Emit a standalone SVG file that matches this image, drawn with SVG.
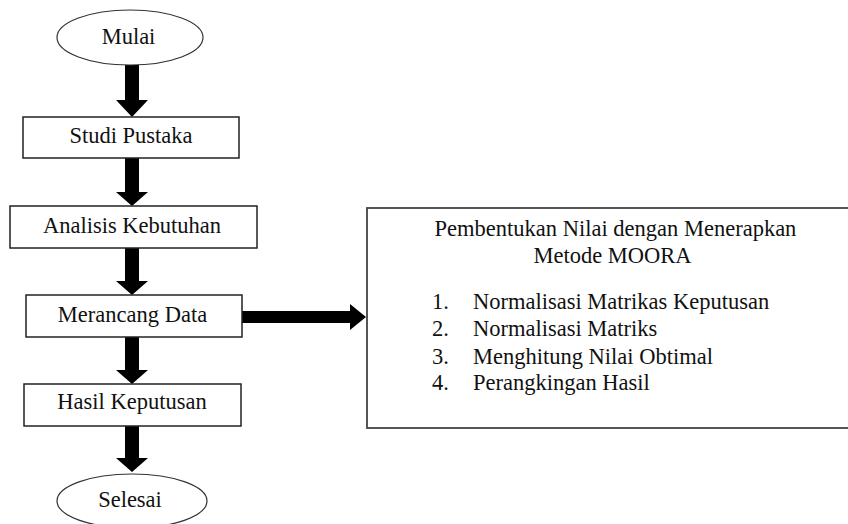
<svg xmlns="http://www.w3.org/2000/svg" width="848" height="524" viewBox="0 0 848 524">
<style>
.n{fill:#fff;stroke:#222;stroke-width:1.5}
.e{fill:#fff;stroke:#333;stroke-width:1.2}
.a{fill:#000}
</style>
<rect width="848" height="524" fill="#fff"/>
<g id="connectors">
<polygon class="a" points="125,65 139,65 139,100 148,100 132,117 116,100 125,100"/>
<polygon class="a" points="125,158 139,158 139,192 148,192 132,206 116,192 125,192"/>
<polygon class="a" points="125,248 139,248 139,281 148,281 132,295 116,281 125,281"/>
<polygon class="a" points="125,337 139,337 139,370 148,370 132,384 116,370 125,370"/>
<polygon class="a" points="125,426 139,426 139,458 148,458 132,472 116,458 125,458"/>
<polygon class="a" points="242,311 350,311 350,304 366,317 350,330 350,323 242,323"/>
</g>
<g id="mulai">
<ellipse class="e" cx="130" cy="37.5" rx="73" ry="27.5"/>
<text x="128.5" y="44" font-family="Liberation Serif" font-size="22.5" fill="#111" text-anchor="middle">Mulai</text>
</g>
<g id="studi">
<rect class="n" x="23" y="117" width="216" height="41"/>
<text x="131" y="143" font-family="Liberation Serif" font-size="22.5" fill="#111" text-anchor="middle">Studi Pustaka</text>
</g>
<g id="analisis">
<rect class="n" x="10" y="206" width="247" height="42"/>
<text x="132" y="233" font-family="Liberation Serif" font-size="22.5" fill="#111" text-anchor="middle">Analisis Kebutuhan</text>
</g>
<g id="merancang">
<rect class="n" x="26" y="295" width="216" height="42"/>
<text x="132.5" y="322" font-family="Liberation Serif" font-size="22.5" fill="#111" text-anchor="middle">Merancang Data</text>
</g>
<g id="hasil">
<rect class="n" x="24" y="384" width="217" height="42"/>
<text x="132" y="409" font-family="Liberation Serif" font-size="22.5" fill="#111" text-anchor="middle">Hasil Keputusan</text>
</g>
<g id="selesai">
<ellipse class="e" cx="132" cy="501" rx="75" ry="27"/>
<text x="130" y="507" font-family="Liberation Serif" font-size="22.5" fill="#111" text-anchor="middle">Selesai</text>
</g>
<g id="moora">
<rect x="367" y="208" width="484" height="220" fill="#fff" stroke="#444" stroke-width="1.8"/>
<text x="615.5" y="236" font-family="Liberation Serif" font-size="22.5" fill="#111" text-anchor="middle">Pembentukan Nilai dengan Menerapkan</text>
<text x="612.5" y="263" font-family="Liberation Serif" font-size="22.5" fill="#111" text-anchor="middle">Metode MOORA</text>
<text x="432" y="309" font-family="Liberation Serif" font-size="22.5" fill="#111">1.</text>
<text x="473" y="309" font-family="Liberation Serif" font-size="22.5" fill="#111">Normalisasi Matrikas Keputusan</text>
<text x="432" y="336" font-family="Liberation Serif" font-size="22.5" fill="#111">2.</text>
<text x="473" y="336" font-family="Liberation Serif" font-size="22.5" fill="#111">Normalisasi Matriks</text>
<text x="432" y="364" font-family="Liberation Serif" font-size="22.5" fill="#111">3.</text>
<text x="473" y="364" font-family="Liberation Serif" font-size="22.5" fill="#111">Menghitung Nilai Obtimal</text>
<text x="432" y="390" font-family="Liberation Serif" font-size="22.5" fill="#111">4.</text>
<text x="473" y="390" font-family="Liberation Serif" font-size="22.5" fill="#111">Perangkingan Hasil</text>
</g>
</svg>
